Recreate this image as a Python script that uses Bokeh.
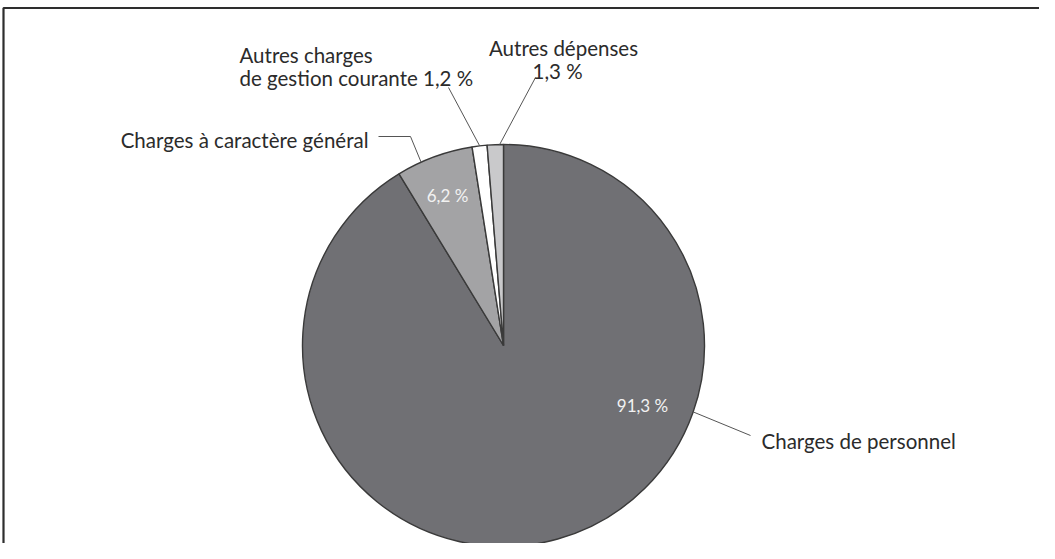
import math
from bokeh.plotting import figure
from bokeh.models import Range1d, ColumnDataSource
from bokeh.core.properties import value
from bokeh.embed import file_html
from bokeh.resources import INLINE

# ---- data ----
categories = ["Charges de personnel", "Charges à caractère général",
              "Autres charges de gestion courante", "Autres dépenses"]
shares = [91.3, 6.2, 1.2, 1.3]
colors = ["#707074", "#a3a3a5", "#ffffff", "#c9c9cb"]

# ---- layout (screen pixel coordinates, y measured downward) ----
W, H = 1039, 543
OX, OY = 8, 8          # page margin
FONT = "Lato"
TXT = "#2b2b2b"
FS = "20.5px"

def Y(sy):
    return 559 - sy

p = figure(width=W, height=H, output_backend="svg", toolbar_location=None,
           x_range=Range1d(OX, OX + W), y_range=Range1d(Y(OY + H), Y(OY)),
           min_border=0, outline_line_color=None)
p.axis.visible = False
p.xgrid.visible = False
p.ygrid.visible = False
p.background_fill_color = "white"
p.border_fill_color = "white"

# frame rectangle (extends beyond the right and bottom of the view)
p.quad(left=[11], right=[1200], top=[Y(15.5)], bottom=[Y(700)],
       fill_color=None, line_color="#2e2e2e", line_width=2.2)

cx, cy, r = 511, Y(353), 201

# wedges, clockwise from 12 o'clock
total = sum(shares)
starts, ends = [], []
cum = 0.0
for s in shares:
    starts.append(math.pi / 2 - 2 * math.pi * cum / total)
    cum += s
    ends.append(math.pi / 2 - 2 * math.pi * cum / total)
src = ColumnDataSource(dict(start=starts, end=ends, color=colors,
                            x=[cx] * 4, y=[cy] * 4))
p.wedge(x="x", y="y", radius=r, start_angle="start", end_angle="end",
        direction="clock", fill_color="color", line_color="#3a3a3a",
        line_width=1.4, source=src)

def edge(deg_cw_from_top, rad=r):
    a = math.radians(deg_cw_from_top)
    return cx + rad * math.sin(a), cy + rad * math.cos(a)

def pct(v):
    return f"{v:.1f}".replace(".", ",") + " %"

leader_col = "#555555"
# Charges de personnel
ex, ey = edge(109.3)
p.line([ex, 758], [ey, Y(443)], line_color=leader_col, line_width=1)
p.text(x=[769], y=[Y(448)], text=[categories[0]], text_font=value(FONT),
       text_font_size=FS, text_color=TXT, text_baseline="alphabetic",
       text_align="left")
# Charges à caractère général
ex, ey = edge(335.8)
p.line([ex, 418, 386], [ey, Y(144), Y(144)], line_color=leader_col, line_width=1)
p.text(x=[376], y=[Y(147)], text=[categories[1]], text_font=value(FONT),
       text_font_size=FS, text_color=TXT, text_baseline="alphabetic",
       text_align="right")
# Autres charges de gestion courante
ex, ey = edge(353.2)
p.line([ex, 456], [ey, Y(95)], line_color=leader_col, line_width=1)
p.text(x=[247, 247], y=[Y(62), Y(85)],
       text=["Autres charges", "de gestion courante " + pct(shares[2])],
       text_font=value(FONT), text_font_size=FS, text_color=TXT,
       text_baseline="alphabetic", text_align="left")
# Autres dépenses
ex, ey = edge(358.9)
p.line([ex, 543], [ey, Y(85)], line_color=leader_col, line_width=1)
p.text(x=[571], y=[Y(55)], text=[categories[3]], text_font=value(FONT),
       text_font_size=FS, text_color=TXT, text_baseline="alphabetic",
       text_align="center")
p.text(x=[540], y=[Y(78)], text=[pct(shares[3])], text_font=value(FONT),
       text_font_size=FS, text_color=TXT, text_baseline="alphabetic",
       text_align="left")

# percent labels inside slices
p.text(x=[650, 455], y=[Y(413), Y(203)], text=[pct(shares[0]), pct(shares[1])],
       text_font=value(FONT), text_font_size="17px", text_color="#f2f2f2",
       text_baseline="alphabetic", text_align="center")

html = file_html(p, INLINE)
open("out.html", "w").write(html)
